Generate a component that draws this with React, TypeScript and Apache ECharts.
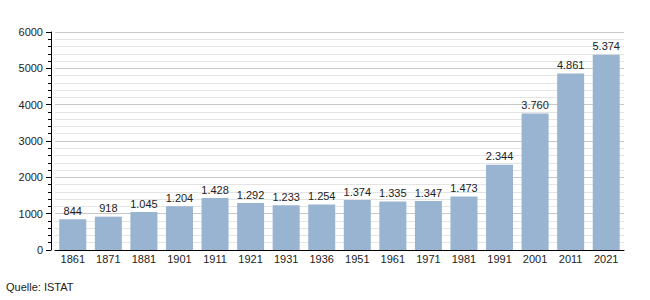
import React, { useEffect, useRef } from "react";
import * as echarts from "echarts";

const years = ["1861","1871","1881","1901","1911","1921","1931","1936","1951","1961","1971","1981","1991","2001","2011","2021"];
const population = [844, 918, 1045, 1204, 1428, 1292, 1233, 1254, 1374, 1335, 1347, 1473, 2344, 3760, 4861, 5374];
const sourceText = "Quelle: ISTAT";

const fmt = (v: number) => String(v).replace(/\B(?=(\d{3})+(?!\d))/g, ".");

export default function App() {
  const ref = useRef<HTMLDivElement>(null);
  useEffect(() => {
    document.body.style.margin = "0";
    const chart = echarts.init(ref.current!, null, { renderer: "svg" });
    const font = "'Liberation Sans', Arial, sans-serif";
    chart.setOption({
      animation: false,
      backgroundColor: "#ffffff",
      textStyle: { fontFamily: font },
      grid: { left: 55, right: 26, top: 32, bottom: 50 },
      xAxis: {
        type: "category",
        data: years,
        axisLine: { show: true, lineStyle: { color: "#000", width: 1 } },
        axisTick: { show: false },
        axisLabel: { color: "#222", fontSize: 11, fontFamily: font, margin: 3 },
      },
      yAxis: {
        type: "value",
        min: 0,
        max: 6000,
        interval: 1000,
        offset: 4,
        axisLine: { show: true, lineStyle: { color: "#000", width: 1 } },
        axisTick: { show: true, length: 5, lineStyle: { color: "#000" } },
        minorTick: { show: true, splitNumber: 5, length: 3, lineStyle: { color: "#000" } },
        axisLabel: { color: "#222", fontSize: 11, fontFamily: font, margin: 8, formatter: (v: number) => String(v) },
        splitLine: { show: true, lineStyle: { color: "#c8c8c8", width: 1 } },
        minorSplitLine: { show: true, lineStyle: { color: "#e4e4e4", width: 1 } },
      },
      series: [
        {
          type: "bar",
          data: population,
          barWidth: 27,
          itemStyle: { color: "#98b4d1" },
          label: {
            show: true,
            position: "top",
            distance: 3,
            color: "#222",
            fontSize: 11,
            fontFamily: font,
            formatter: (p: any) => fmt(p.value),
          },
        },
      ],
      graphic: [
        {
          type: "text",
          left: 6,
          top: 281,
          style: { text: sourceText, fill: "#222", font: `11px ${font}` },
        },
      ],
    });
    return () => chart.dispose();
  }, []);
  return <div ref={ref} style={{ width: 650, height: 300 }} />;
}
